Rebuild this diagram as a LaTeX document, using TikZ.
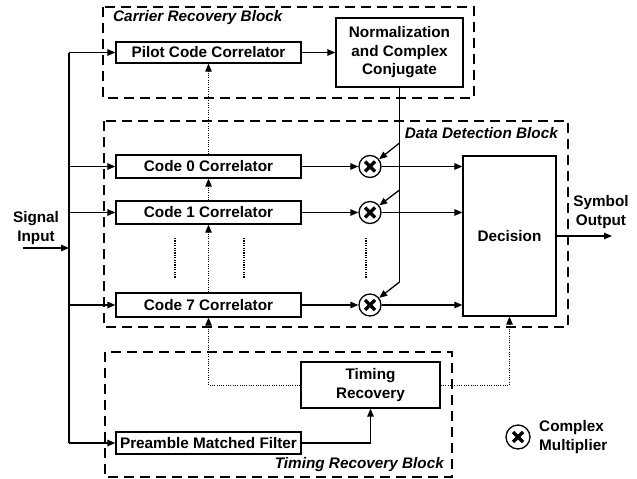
\documentclass[tikz,border=0pt]{standalone}
\usepackage{fontspec}
\setmainfont{Liberation Sans}
\usetikzlibrary{arrows.meta}
\begin{document}
\begin{tikzpicture}[x=1pt,y=-1pt,
  font=\fontsize{15.3}{18.5}\selectfont\bfseries,
  blk/.style={draw, line width=1.3pt, inner sep=0pt, align=center},
  group/.style={draw, line width=1.4pt, dash pattern=on 10pt off 6pt},
  title/.style={font=\fontsize{15.3}{18.5}\selectfont\bfseries\itshape, inner sep=0pt},
  lbl/.style={inner sep=0pt, align=center},
  wire/.style={line width=1.3pt},
  arr/.style={wire, -{Triangle[length=8pt,width=6.5pt]}},
  sync/.style={line width=1pt, dash pattern=on 1pt off 1.3pt, -{Triangle[length=8pt,width=6.5pt]}},
  sync line/.style={line width=1pt, dash pattern=on 1pt off 1.3pt},
  vdots/.style={line width=2pt, dash pattern=on 1.2pt off 1.2pt},
  mult/.style={circle, draw, fill=white, line width=1.3pt, minimum size=22pt, inner sep=0pt,
    path picture={
      \draw[line width=3.4pt]
        ([shift={(-5pt,-5pt)}]path picture bounding box.center) -- ([shift={(5pt,5pt)}]path picture bounding box.center)
        ([shift={(-5pt,5pt)}]path picture bounding box.center) -- ([shift={(5pt,-5pt)}]path picture bounding box.center);
    }}
]
\useasboundingbox (0,0) rectangle (637,479);

% functional groups
\draw[group] (103,7) rectangle (474,98);
\draw[group] (104,121) rectangle (568,327);
\draw[group] (105,352) rectangle (452,477);
\node[title, anchor=west] (tcarrier) at (113,18) {Carrier Recovery Block};
\node[title, anchor=east] (tdata) at (558,133) {Data Detection Block};
\node[title, anchor=east] (ttiming) at (444,465) {Timing Recovery Block};

% processing blocks
\node[blk, minimum width=185pt, minimum height=21pt] (pilot) at (208.5,52.5) {Pilot Code Correlator};
\node[blk, minimum width=127pt, minimum height=69pt] (norm) at (399.5,52.5) {Normalization\\and Complex\\Conjugate};
\node[blk, minimum width=185pt, minimum height=23pt] (c0) at (208.5,166.5) {Code 0 Correlator};
\node[blk, minimum width=185pt, minimum height=23pt] (c1) at (208.5,212.5) {Code 1 Correlator};
\node[blk, minimum width=185pt, minimum height=24pt] (c7) at (208.5,305) {Code 7 Correlator};
\node[blk, minimum width=93pt, minimum height=160pt] (dec) at (509.5,236) {Decision};
\node[blk, minimum width=139pt, minimum height=46pt] (tim) at (370.5,385) {Timing\\Recovery};
\node[blk, minimum width=185pt, minimum height=22pt] (pre) at (208.5,443) {Preamble Matched Filter};

% complex multipliers
\node[mult] (m0) at (370,166.5) {};
\node[mult] (m1) at (370,212.5) {};
\node[mult] (m7) at (370,305) {};

% input / output labels
\node[lbl] (sigin) at (36,228) {Signal\\Input};
\node[lbl] (symout) at (601,212) {Symbol\\Output};

% legend
\node[mult, minimum size=24pt] (legm) at (518,437) {};
\node[lbl, align=left, anchor=west] (legt) at (539,437) {Complex\\Multiplier};

% input bus
\coordinate (src) at (23,248);
\coordinate (bin) at (69,248);
\coordinate (btop) at (69,52.5);
\coordinate (bbot) at (69,443);
\draw[arr] (src) -- (bin);
\draw[wire] (btop) -- (bbot);
\draw[arr] (btop) -- (pilot.west);
\draw[arr] (c0.west -| btop) -- (c0.west);
\draw[arr] (c1.west -| btop) -- (c1.west);
\draw[arr] (c7.west -| btop) -- (c7.west);
\draw[arr] (bbot) -- (pre.west);

% carrier path
\draw[arr] (pilot.east) -- (norm.west);
\coordinate (n0) at (399.5,143);
\coordinate (n1) at (399.5,190);
\coordinate (n7) at (399.5,282);
\draw[wire] (norm.south) -- (n7);
\draw[arr] (n0) -- (m0);
\draw[arr] (n1) -- (m1);
\draw[arr] (n7) -- (m7);

% correlator outputs
\draw[arr] (c0.east) -- (m0.west);
\draw[arr] (c1.east) -- (m1.west);
\draw[arr] (c7.east) -- (m7.west);
\draw[arr] (m0.east) -- (m0.east -| dec.west);
\draw[arr] (m1.east) -- (m1.east -| dec.west);
\draw[arr] (m7.east) -- (m7.east -| dec.west);
\coordinate (out) at (612,236);
\draw[arr] (dec.east) -- (out);

% timing path
\draw[arr] (pre.east) -| (tim.south);
\draw[sync] (tim.west) -| (c7.south);
\draw[sync] (c7.north) -- (c1.south);
\draw[sync] (c1.north) -- (c0.south);
\draw[sync] (c0.north) -- (pilot.south);
\draw[sync] (tim.east) -| (dec.south);

% omitted branches
\draw[vdots] (175,238) -- (175,278);
\draw[vdots] (244,238) -- (244,278);
\draw[vdots] (366,238) -- (366,278);
\end{tikzpicture}
\end{document}
